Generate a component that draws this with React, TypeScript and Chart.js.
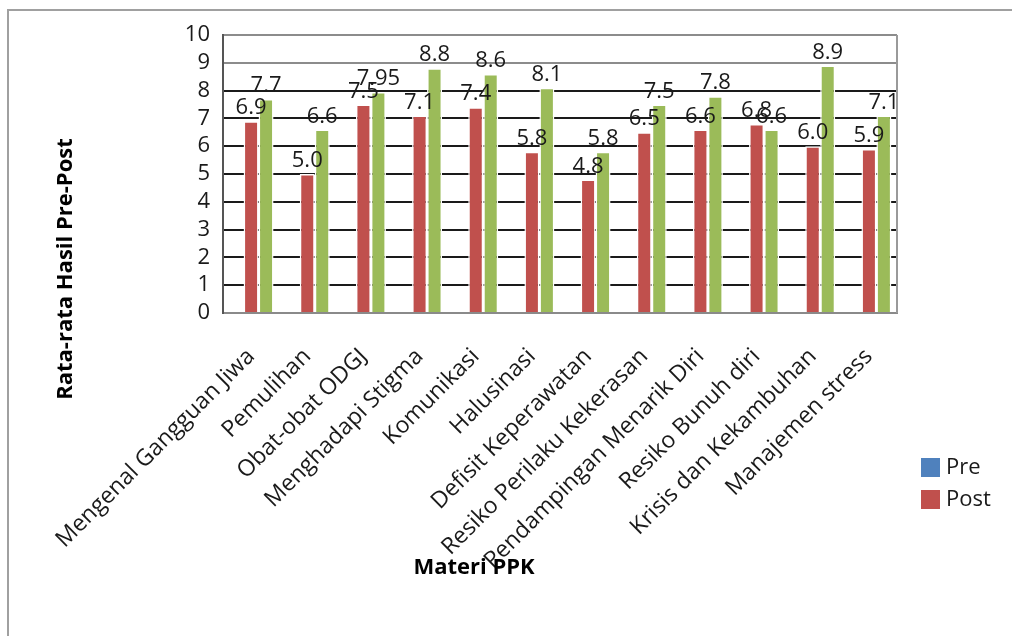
import React, { useEffect, useRef } from "react";
import { Chart, registerables } from "chart.js";

Chart.register(...registerables);

const categories = [
  "Mengenal Gangguan Jiwa",
  "Pemulihan",
  "Obat-obat ODGJ",
  "Menghadapi Stigma",
  "Komunikasi",
  "Halusinasi",
  "Defisit Keperawatan",
  "Resiko Perilaku Kekerasan",
  "Pendampingan Menarik Diri",
  "Resiko Bunuh diri",
  "Krisis dan Kekambuhan",
  "Manajemen stress",
];

const preValues: (number | null)[] = [null, null, null, null, null, null, null, null, null, null, null, null];
const postValues = [6.9, 5.0, 7.5, 7.1, 7.4, 5.8, 4.8, 6.5, 6.6, 6.8, 6.0, 5.9];
const thirdValues = [7.7, 6.6, 7.95, 8.8, 8.6, 8.1, 5.8, 7.5, 7.8, 6.6, 8.9, 7.1];

const postLabels = ["6.9", "5.0", "7.5", "7.1", "7.4", "5.8", "4.8", "6.5", "6.6", "6.8", "6.0", "5.9"];
const thirdLabels = ["7.7", "6.6", "7.95", "8.8", "8.6", "8.1", "5.8", "7.5", "7.8", "6.6", "8.9", "7.1"];

const legendNames = ["Pre", "Post"];
const yTitle = "Rata-rata Hasil Pre-Post";
const xTitle = "Materi PPK";

const COLORS = { pre: "#4F81BD", post: "#C0504D", third: "#9BBB59" };
const FONT = '"Open Sans", "DejaVu Sans", sans-serif';

export default function App() {
  const ref = useRef<HTMLCanvasElement | null>(null);

  useEffect(() => {
    const canvas = ref.current;
    if (!canvas) return;

    const overlay = {
      id: "overlay",
      beforeDraw(chart: any) {
        const c = chart.ctx;
        c.save();
        c.fillStyle = "#ffffff";
        c.fillRect(0, 0, chart.width, chart.height);
        c.restore();
      },
      afterDatasetsDraw(chart: any) {
        const c = chart.ctx;
        const area = chart.chartArea;
        c.save();
        c.beginPath();
        c.rect(0, 0, area.right, chart.height);
        c.clip();
        c.font = `22px ${FONT}`;
        c.fillStyle = "#1a1a1a";
        c.textAlign = "center";
        c.textBaseline = "alphabetic";
        const sets: [number, string[]][] = [
          [1, postLabels],
          [2, thirdLabels],
        ];
        sets.forEach(([di, labels]) => {
          const meta = chart.getDatasetMeta(di);
          meta.data.forEach((el: any, i: number) => {
            c.fillText(labels[i], el.x, el.y - 7);
          });
        });
        c.restore();
      },
      afterDraw(chart: any) {
        const c = chart.ctx;
        const area = chart.chartArea;
        c.save();
        c.strokeStyle = "#a0a0a0";
        c.lineWidth = 2;
        c.beginPath();
        c.moveTo(8, chart.height);
        c.lineTo(8, 10);
        c.lineTo(chart.width, 10);
        c.stroke();
        c.strokeStyle = "#9a9a9a";
        c.beginPath();
        c.moveTo(area.right, area.top);
        c.lineTo(area.right, area.bottom);
        c.stroke();
        c.fillStyle = "#000000";
        c.font = `bold 22px ${FONT}`;
        c.textAlign = "center";
        c.textBaseline = "middle";
        c.fillText(xTitle, 474, 568);
        c.save();
        c.translate(66, 269);
        c.rotate(-Math.PI / 2);
        c.fillText(yTitle, 0, 0);
        c.restore();
        const legendColors = [COLORS.pre, COLORS.post];
        c.font = `22px ${FONT}`;
        c.textAlign = "left";
        legendNames.forEach((name, i) => {
          const y = 468 + i * 32;
          c.fillStyle = legendColors[i];
          c.fillRect(921, y - 10, 19, 19);
          c.fillStyle = "#1a1a1a";
          c.fillText(name, 946, y);
        });
        c.restore();
      },
    };

    const chart = new Chart(canvas, {
      type: "bar",
      data: {
        labels: categories,
        datasets: [
          { label: "Pre", data: preValues, backgroundColor: COLORS.pre, borderColor: "#ffffff", borderWidth: 1.5 },
          { label: "Post", data: postValues, backgroundColor: COLORS.post, borderColor: "#ffffff", borderWidth: 1.5 },
          { label: "", data: thirdValues, backgroundColor: COLORS.third, borderColor: "#ffffff", borderWidth: 1.5 },
        ],
      },
      options: {
        responsive: false,
        animation: false,
        devicePixelRatio: 1,
        layout: { padding: { top: 35, right: 115, left: 0, bottom: 0 } },
        plugins: {
          legend: { display: false },
          title: { display: false },
          tooltip: { enabled: false },
        },
        datasets: {
          bar: { categoryPercentage: 0.8, barPercentage: 1.0 },
        },
        scales: {
          x: {
            grid: { display: false, drawTicks: false },
            border: { display: true, color: "#8a8a8a", width: 2 },
            ticks: {
              autoSkip: false,
              maxRotation: 45,
              minRotation: 45,
              padding: 30,
              color: "#1a1a1a",
              font: { family: FONT, size: 23 },
            },
            afterFit(scale: any) {
              scale.height = 323;
            },
          },
          y: {
            min: 0,
            max: 10,
            ticks: {
              stepSize: 1,
              autoSkip: false,
              padding: 13,
              color: "#1a1a1a",
              font: { family: FONT, size: 22 },
            },
            grid: {
              drawTicks: false,
              lineWidth: 2,
              color: (ctx: any) =>
                ctx.tick && (ctx.tick.value >= 9 || ctx.tick.value === 0) ? "#8c8c8c" : "#1a1a1a",
            },
            border: { display: true, color: "#555555", width: 2 },
            afterFit(scale: any) {
              scale.width = 223;
            },
          },
        },
      },
      plugins: [overlay],
    });

    return () => chart.destroy();
  }, []);

  return (
    <div style={{ position: "absolute", left: 0, top: 0, width: 1012, height: 636 }}>
      <canvas ref={ref} width={1012} height={636} style={{ display: "block" }} />
    </div>
  );
}
